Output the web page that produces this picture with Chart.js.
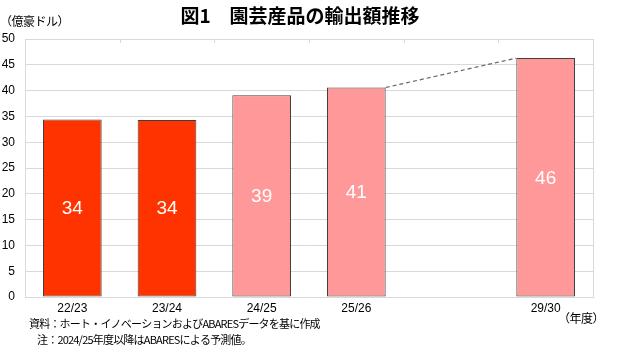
<!DOCTYPE html>
<html>
<head>
<meta charset="utf-8">
<title>園芸産品の輸出額推移</title>
<script src="https://cdn.jsdelivr.net/npm/chart.js"></script>
<style>
  body { margin: 0; background: #fff; }
  #wrap { width: 620px; height: 360px; position: relative; }
</style>
</head>
<body>
<div id="wrap"><canvas id="exportChart"></canvas></div>
<script>
// 年度 (26/27〜28/29 は空欄)
const years = ['22/23', '23/24', '24/25', '25/26', '', '29/30'];
// 輸出額 (億豪ドル)
const exportValues = [34.4, 34.3, 39.1, 40.6, null, 46.3];
// 24/25以降は予測値
const isForecast = [false, false, true, true, false, true];
const yMin = 0, yMax = 50, yStep = 5;

const titleText = '図1　園芸産品の輸出額推移';
const unitText = '（億豪ドル）';
const yearUnitText = '（年度）';
const sourceText = '資料：ホート・イノベーションおよびABARESデータを基に作成';
const noteText = '注：2024/25年度以降はABARESによる予測値。';

const jp = '"Noto Sans CJK JP", sans-serif';
const num = '"Liberation Sans", Arial, sans-serif';

const extras = {
    id: 'extras',
    beforeDatasetsDraw(chart) {
        const ctx = chart.ctx, area = chart.chartArea;
        ctx.save();
        ctx.strokeStyle = '#d9d9d9';
        ctx.lineWidth = 1;
        // right border
        ctx.beginPath();
        ctx.moveTo(area.right + 0.5, area.top);
        ctx.lineTo(area.right + 0.5, area.bottom);
        ctx.stroke();
        // short marks under top line at category edges
        const step = area.width / years.length;
        for (let i = 1; i < years.length; i++) {
            const x = Math.round(area.left + i * step) + 0.5;
            ctx.beginPath();
            ctx.moveTo(x, area.top);
            ctx.lineTo(x, area.top + 4);
            ctx.stroke();
        }
        ctx.restore();
    },
    afterDatasetsDraw(chart) {
        const ctx = chart.ctx;
        const meta = chart.getDatasetMeta(0);
        ctx.save();
        ctx.fillStyle = '#ffffff';
        ctx.font = '19px ' + num;
        ctx.textAlign = 'center';
        ctx.textBaseline = 'middle';
        meta.data.forEach((bar, i) => {
            if (exportValues[i] == null) return;
            ctx.fillText(String(Math.round(exportValues[i])), bar.x, (bar.y + bar.base) / 2 + 1);
        });
        // dashed link 25/26 -> 29/30
        const a = meta.data[3], b = meta.data[5];
        ctx.strokeStyle = '#666666';
        ctx.lineWidth = 1.2;
        ctx.setLineDash([4, 3]);
        ctx.beginPath();
        ctx.moveTo(a.x + a.width / 2, a.y);
        ctx.lineTo(b.x - b.width / 2, b.y);
        ctx.stroke();
        ctx.restore();
    },
    afterDraw(chart) {
        const ctx = chart.ctx;
        ctx.save();
        ctx.fillStyle = '#000000';
        ctx.textBaseline = 'middle';
        ctx.textAlign = 'center';
        ctx.font = 'bold 19px ' + jp;
        ctx.fillText(titleText, 300, 16);
        ctx.textAlign = 'left';
        ctx.font = '12px ' + jp;
        ctx.letterSpacing = '-0.5px';
        ctx.fillText(unitText, 0, 21);
        ctx.fillText(yearUnitText, 558, 318);
        ctx.font = '11px ' + jp;
        ctx.letterSpacing = '-0.8px';
        ctx.fillText(sourceText, 29, 324);
        ctx.fillText(noteText, 37, 340);
        ctx.restore();
    }
};

new Chart(document.getElementById('exportChart'), {
    type: 'bar',
    data: {
        labels: years,
        datasets: [{
            data: exportValues,
            backgroundColor: isForecast.map(f => f ? '#ff9999' : '#ff3300'),
            borderColor: '#404040',
            borderWidth: 1,
            borderSkipped: false,
            barPercentage: 0.62,
            categoryPercentage: 1
        }]
    },
    options: {
        responsive: true,
        maintainAspectRatio: false,
        animation: false,
        layout: { padding: { top: 39, right: 27, left: 0, bottom: 0 } },
        plugins: {
            legend: { display: false },
            tooltip: { enabled: false }
        },
        scales: {
            x: {
                grid: { display: false, drawTicks: false },
                border: { color: '#d9d9d9' },
                ticks: { color: '#000', font: { family: num, size: 12 }, padding: 4, maxRotation: 0 },
                afterFit(scale) { scale.height = 63; }
            },
            y: {
                min: yMin,
                max: yMax,
                grid: { color: '#d9d9d9', drawTicks: false },
                border: { color: '#d9d9d9' },
                ticks: { stepSize: yStep, color: '#000', font: { family: num, size: 12 }, padding: 10 },
                afterFit(scale) { scale.width = 25; }
            }
        }
    },
    plugins: [extras]
});
</script>
</body>
</html>
